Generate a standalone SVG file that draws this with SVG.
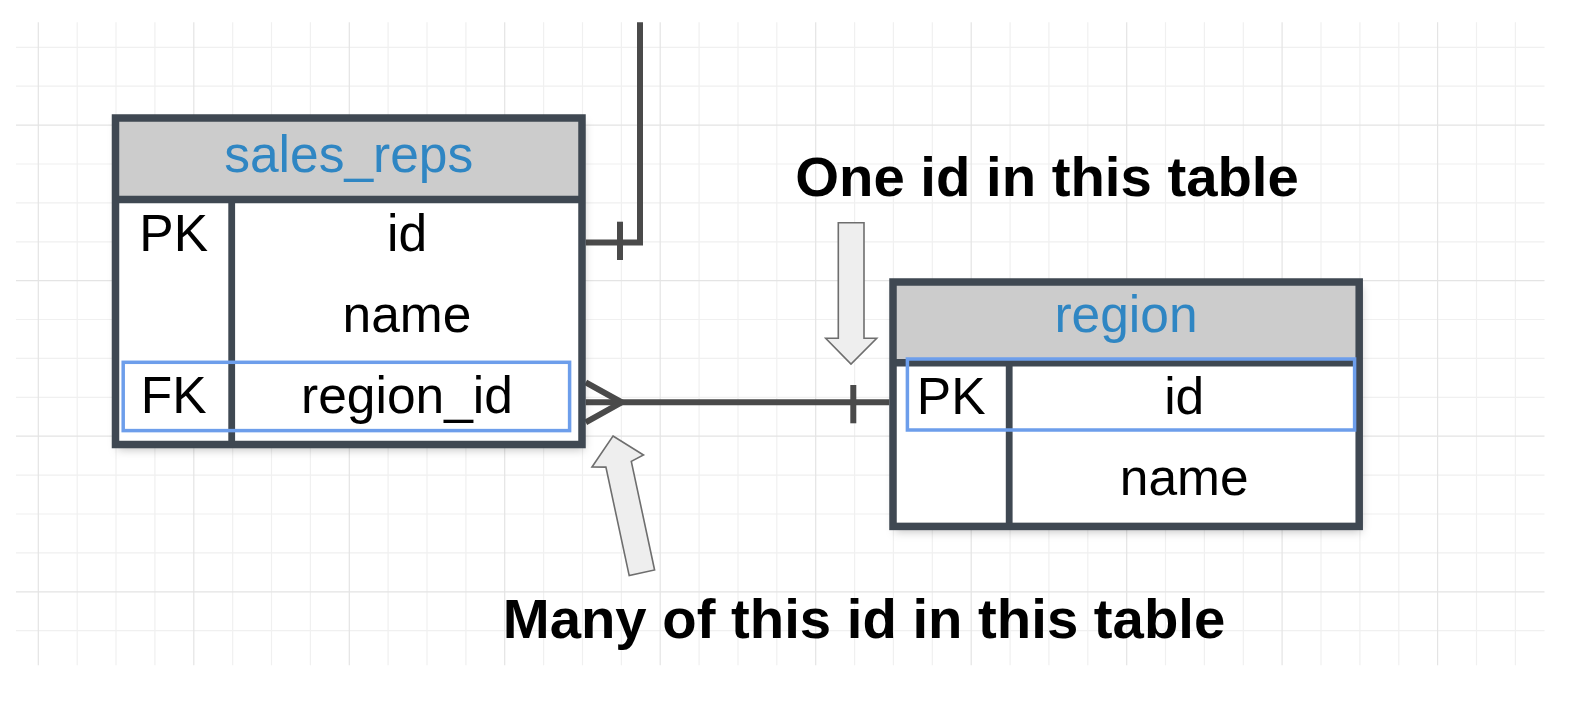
<svg xmlns="http://www.w3.org/2000/svg" width="1588" height="708" viewBox="0 0 1588 708">
<style>
.grid{stroke:#f0f0f0;stroke-width:1.2;fill:none}
.gridm{stroke:#e4e4e4;stroke-width:1.2;fill:none}
.box{fill:none;stroke:#3f4852;stroke-width:7.5}
.bg{fill:#ffffff;stroke:none}
.hdr{fill:#cccccc;stroke:none}
.sep{stroke:#3f4852;stroke-width:7.5;fill:none}
.col{stroke:#3f4852;stroke-width:6.8;fill:none}
.hl{fill:none;stroke:#6d9eeb;stroke-width:3.5}
.t{font-family:"Liberation Sans",Arial,sans-serif;font-size:51.5px;fill:#000;text-anchor:middle}
.title{font-family:"Liberation Sans",Arial,sans-serif;font-size:51.5px;fill:#2f86c3;text-anchor:middle}
.lbl{font-family:"Liberation Sans",Arial,sans-serif;font-size:56.3px;font-weight:bold;fill:#000;text-anchor:middle}
.conn{stroke:#4a4a4a;stroke-width:6;fill:none}
.arrow{fill:#eeeeee;stroke:#6e6e6e;stroke-width:1.6;stroke-linejoin:miter}
</style>
<defs>
<filter id="sh" x="-10%" y="-10%" width="125%" height="130%">
<feDropShadow dx="2" dy="5" stdDeviation="5" flood-color="#000000" flood-opacity="0.25"/>
</filter>
</defs>
<rect x="0" y="0" width="1588" height="708" fill="#ffffff"/>
<g id="grid">
<path class="grid" d="M77.2 22.3V665.3M116 22.3V665.3M154.9 22.3V665.3M232.7 22.3V665.3M271.5 22.3V665.3M310.4 22.3V665.3M388.1 22.3V665.3M427 22.3V665.3M465.9 22.3V665.3M543.6 22.3V665.3M582.5 22.3V665.3M621.4 22.3V665.3M699.1 22.3V665.3M738 22.3V665.3M776.8 22.3V665.3M854.6 22.3V665.3M893.4 22.3V665.3M932.3 22.3V665.3M1010.1 22.3V665.3M1048.9 22.3V665.3M1087.8 22.3V665.3M1165.5 22.3V665.3M1204.4 22.3V665.3M1243.3 22.3V665.3M1321 22.3V665.3M1359.9 22.3V665.3M1398.8 22.3V665.3M1476.5 22.3V665.3M1515.4 22.3V665.3M16 47.3H1544.5M16 86.2H1544.5M16 164H1544.5M16 202.9H1544.5M16 241.8H1544.5M16 319.5H1544.5M16 358.4H1544.5M16 397.3H1544.5M16 475.1H1544.5M16 514H1544.5M16 552.9H1544.5M16 630.7H1544.5"/>
<path class="gridm" d="M38.3 22.3V665.3M193.8 22.3V665.3M349.3 22.3V665.3M504.7 22.3V665.3M660.2 22.3V665.3M815.7 22.3V665.3M971.2 22.3V665.3M1126.7 22.3V665.3M1282.1 22.3V665.3M1437.6 22.3V665.3M16 125.1H1544.5M16 280.6H1544.5M16 436.2H1544.5M16 591.8H1544.5"/>
</g>
<g id="connectors">
<path class="conn" d="M640 22.3V242.5H585.7"/>
<path class="conn" d="M620 221.7V260"/>
<path class="conn" d="M585.7 402.3H889.3"/>
<path class="conn" d="M585.7 382.3L621.7 402.3L585.7 422.3"/>
<path class="conn" d="M853.3 385V423.3"/>
</g>
<g id="sales_reps">
<rect class="bg" x="115.5" y="118" width="466.5" height="326.5" filter="url(#sh)"/>
<rect class="hdr" x="115.5" y="118" width="466.5" height="81.5"/>
<path class="sep" d="M115.5 199.5H582"/>
<path class="col" d="M231.7 199.5V444.5"/>
<rect class="box" x="115.5" y="118" width="466.5" height="326.5"/>
<text class="title" x="348.7" y="171.7">sales_reps</text>
<text class="t" x="173.7" y="251">PK</text>
<text class="t" x="407" y="251">id</text>
<text class="t" x="407" y="332">name</text>
<text class="t" x="173.7" y="413">FK</text>
<text class="t" x="407" y="413">region_id</text>
<rect class="hl" x="123.2" y="362.3" width="446.4" height="68.3"/>
</g>
<g id="region">
<rect class="bg" x="893" y="282" width="466.2" height="244.4" filter="url(#sh)"/>
<rect class="hdr" x="893" y="282" width="466.2" height="80.8"/>
<path class="sep" d="M893 362.8H1359.2"/>
<path class="col" d="M1009.2 362.8V526.4"/>
<rect class="box" x="893" y="282" width="466.2" height="244.4"/>
<text class="title" x="1126" y="331.7">region</text>
<text class="t" x="951.2" y="414">PK</text>
<text class="t" x="1184.2" y="414">id</text>
<text class="t" x="1184.2" y="495">name</text>
<rect class="hl" x="907.4" y="359" width="447.2" height="71"/>
</g>
<g id="annotation-one">
<polygon class="arrow" points="838.3,222.7 864,222.7 864,338.3 876.7,338.3 851,364 825.7,338.3 838.3,338.3"/>
<text class="lbl" x="1047" y="196">One id in this table</text>
</g>
<g id="annotation-many">
<polygon class="arrow" points="613,436 643.5,455 631.3,461.4 654.6,570 629.2,575.6 605.9,467.1 592,467"/>
<text class="lbl" x="864" y="638.3">Many of this id in this table</text>
</g>
</svg>
